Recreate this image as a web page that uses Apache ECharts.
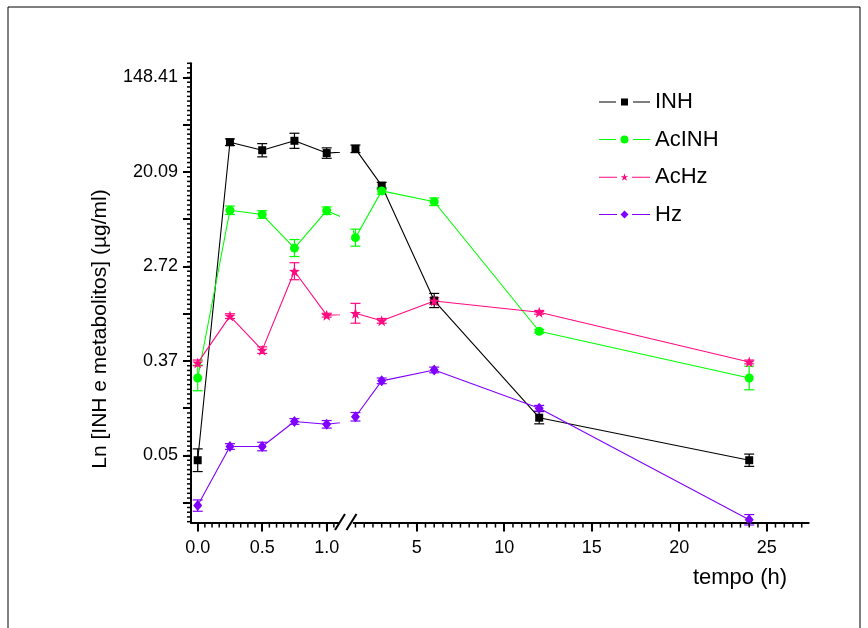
<!DOCTYPE html>
<html><head><meta charset="utf-8">
<script src="https://cdn.jsdelivr.net/npm/echarts@6/dist/echarts.min.js"></script>
<style>html,body{margin:0;padding:0;background:#fff}#c{width:868px;height:628px}</style>
</head><body><div id="c"></div>
<script>
// sampling times (h)
const times = [0, 0.25, 0.5, 0.75, 1.0, 1.5, 3, 6, 12, 24];
const seriesNames = ['INH', 'AcINH', 'AcHz', 'Hz'];
// Ln of concentration (µg/ml) and error half-widths (ln units)
const lnINH   = [-3.10, 3.63, 3.46, 3.66, 3.40, 3.49, 2.71, 0.28, -2.20, -3.10];
const errINH  = [0.24, 0.07, 0.14, 0.16, 0.11, 0.08, 0.07, 0.15, 0.13, 0.13];
const lnAcINH = [-1.36, 2.19, 2.10, 1.39, 2.18, 1.61, 2.60, 2.37, -0.37, -1.36];
const errAcINH= [0.27, 0.09, 0.08, 0.18, 0.08, 0.18, 0.07, 0.08, 0.04, 0.25];
const lnAcHz  = [-1.04, -0.05, -0.77, 0.90, -0.03, 0.01, -0.15, 0.27, 0.03, -1.02];
const errAcHz = [0.06, 0.05, 0.07, 0.18, 0.04, 0.21, 0.05, 0.07, 0.04, 0.04];
const lnHz    = [-4.06, -2.81, -2.81, -2.28, -2.34, -2.18, -1.42, -1.19, -2.00, -4.36];
const errHz   = [0.12, 0.06, 0.09, 0.06, 0.08, 0.09, 0.06, 0.06, 0.06, 0.11];
// tick values / labels
const yTickValues = [-3, -1, 1, 3, 5];
const yTickLabels = ['0.05', '0.37', '2.72', '20.09', '148.41'];
const yMidTicks = [-4, -2, 0, 2, 4];
const xLeftTicks = [0, 0.5, 1.0];
const xLeftLabels = ['0.0', '0.5', '1.0'];
const xRightTicks = [5, 10, 15, 20, 25];
const xRightLabels = ['5', '10', '15', '20', '25'];

const colors = ['#000000', '#00ff00', '#ff0a80', '#8000ff'];
const starPath = 'path://M0,-10 L2.35,-3.24 L9.51,-3.09 L3.8,1.24 L5.88,8.09 L0,4 L-5.88,8.09 L-3.8,1.24 L-9.51,-3.09 L-2.35,-3.24 Z';
const symbols = ['rect', 'circle', starPath, 'diamond'];
const symbolSizes = [8, 9, 11, [9, 11]];
const vals = [lnINH, lnAcINH, lnAcHz, lnHz];
const errs = [errINH, errAcINH, errAcHz, errHz];
// legend icons: line - gap - symbol - gap - line
const legendIcons = [
  'path://M0,3.5 L17,3.5 L17,4.5 L0,4.5 Z M22,0.5 L29,0.5 L29,7.5 L22,7.5 Z M34,3.5 L51,3.5 L51,4.5 L34,4.5 Z',
  'path://M0,3.5 L17,3.5 L17,4.5 L0,4.5 Z M21.5,4 A4,4 0 1,1 29.5,4 A4,4 0 1,1 21.5,4 Z M34,3.5 L51,3.5 L51,4.5 L34,4.5 Z',
  'path://M0,3.5 L18,3.5 L18,4.5 L0,4.5 Z M25.5,0 L26.4,2.8 L29.3,2.8 L27,4.5 L27.9,7.3 L25.5,5.6 L23.1,7.3 L24,4.5 L21.7,2.8 L24.6,2.8 Z M33,3.5 L51,3.5 L51,4.5 L33,4.5 Z',
  'path://M0,3.5 L18,3.5 L18,4.5 L0,4.5 Z M25.5,0 L29.5,4 L25.5,8 L21.5,4 Z M33,3.5 L51,3.5 L51,4.5 L33,4.5 Z'
];

const Y_MIN = -4.42, Y_MAX = 5.3;
const XL_MIN = -0.052, XL_MAX = 1.09;
const XR_MIN = 1.4, XR_MAX = 27.4;

function range(a, b, step) { const r = []; const n = Math.round((b - a) / step); for (let i = 0; i <= n; i++) r.push(+(a + i * step).toFixed(6)); return r; }
const yMinor = range(-4.4, 5.3, 0.1);
const xLeftMinor = range(0, 1.06, 0.5 / 9);
const xRightMinor = range(1.5, 27, 0.5);

function lab(list, labels) {
  return function (v) { for (let i = 0; i < list.length; i++) if (Math.abs(list[i] - v) < 1e-6) return labels[i]; return ''; };
}
const FONT = '"Liberation Sans", Arial, Helvetica, sans-serif';
const axisLineStyle = { color: '#000', width: 2 };

const xAxes = [
  { gridIndex: 0, type: 'value', min: XL_MIN, max: XL_MAX, position: 'bottom',
    axisLine: { show: true, onZero: false, lineStyle: axisLineStyle },
    axisTick: { show: true, inside: false, length: 9, customValues: xLeftTicks, lineStyle: { color: '#000', width: 2 } },
    axisLabel: { show: true, customValues: xLeftTicks, formatter: lab(xLeftTicks, xLeftLabels), margin: 16, fontSize: 18, color: '#000', fontFamily: FONT },
    splitLine: { show: false } },
  { gridIndex: 1, type: 'value', min: XR_MIN, max: XR_MAX, position: 'bottom',
    axisLine: { show: true, onZero: false, lineStyle: axisLineStyle },
    axisTick: { show: true, inside: false, length: 9, customValues: xRightTicks, lineStyle: { color: '#000', width: 2 } },
    axisLabel: { show: true, customValues: xRightTicks, formatter: lab(xRightTicks, xRightLabels), margin: 16, fontSize: 18, color: '#000', fontFamily: FONT },
    splitLine: { show: false } }
];
const yAxes = [
  { gridIndex: 0, type: 'value', min: Y_MIN, max: Y_MAX, position: 'left',
    axisLine: { show: true, onZero: false, lineStyle: axisLineStyle },
    axisTick: { show: true, inside: false, length: 8, customValues: yTickValues.concat(yMidTicks), lineStyle: { color: '#000', width: 2 } },
    axisLabel: { show: true, customValues: yTickValues, formatter: lab(yTickValues, yTickLabels), margin: 13, fontSize: 18, color: '#000', fontFamily: FONT },
    splitLine: { show: false } },
  { gridIndex: 1, type: 'value', min: Y_MIN, max: Y_MAX, show: false,
    axisLine: { onZero: false }, splitLine: { show: false } }
];

const series = [];
[[0, 0], [1, 1]].forEach(function (ax) {
  seriesNames.forEach(function (name, k) {
    series.push({
      type: 'line', name: name, xAxisIndex: ax[0], yAxisIndex: ax[1], clip: true,
      data: times.map(function (t, i) { return [t, vals[k][i]]; }),
      symbol: symbols[k], symbolSize: symbolSizes[k],
      lineStyle: { color: colors[k], width: 1.1 },
      itemStyle: { color: colors[k], borderWidth: 0 },
      z: 4, silent: true
    });
  });
});
function errSeries(k, xIdx, yIdx, inRange) {
  const data = [];
  times.forEach(function (t, i) { if (inRange(t)) data.push([t, vals[k][i], errs[k][i]]); });
  const color = colors[k];
  return {
    type: 'custom', name: seriesNames[k], xAxisIndex: xIdx, yAxisIndex: yIdx, data: data, z: 3, silent: true,
    encode: { x: 0, y: 1 },
    renderItem: function (params, api) {
      const x = api.value(0), y = api.value(1), e = api.value(2);
      const hi = api.coord([x, y + e]), lo = api.coord([x, y - e]);
      const cw = 5;
      const st = { stroke: color, lineWidth: 1.2, fill: null };
      return { type: 'group', children: [
        { type: 'line', shape: { x1: hi[0], y1: hi[1], x2: lo[0], y2: lo[1] }, style: st },
        { type: 'line', shape: { x1: hi[0] - cw, y1: hi[1], x2: hi[0] + cw, y2: hi[1] }, style: st },
        { type: 'line', shape: { x1: lo[0] - cw, y1: lo[1], x2: lo[0] + cw, y2: lo[1] }, style: st }
      ] };
    }
  };
}
seriesNames.forEach(function (n, k) {
  series.push(errSeries(k, 0, 0, function (t) { return t <= XL_MAX; }));
  series.push(errSeries(k, 1, 1, function (t) { return t >= XR_MIN; }));
});

const baseGraphic = [
  { type: 'rect', shape: { x: 8, y: 7, width: 852, height: 700 }, style: { stroke: '#000', lineWidth: 1, fill: 'none' }, silent: true },
  { type: 'line', shape: { x1: 335, y1: 530, x2: 345, y2: 514 }, style: { stroke: '#000', lineWidth: 2 }, z: 10 },
  { type: 'line', shape: { x1: 346.5, y1: 530, x2: 356.5, y2: 514 }, style: { stroke: '#000', lineWidth: 2 }, z: 10 },
  { type: 'text', x: 100, y: 329, rotation: Math.PI / 2,
    style: { text: 'Ln [INH e metabolitos] (µg/ml)', fontSize: 21, fontFamily: FONT, fill: '#000', align: 'center', verticalAlign: 'middle' } },
  { type: 'text', x: 740, y: 578,
    style: { text: 'tempo (h)', fontSize: 22, fontFamily: FONT, fill: '#000', align: 'center', verticalAlign: 'middle' } }
];

const chart = echarts.init(document.getElementById('c'), null, { renderer: 'canvas' });
chart.setOption({
  animation: false,
  backgroundColor: '#ffffff',
  grid: [
    { left: 191, right: 868 - 338.3, top: 63.3, bottom: 628 - 522.6, containLabel: false },
    { left: 353.7, right: 868 - 808.7, top: 63.3, bottom: 628 - 522.6, containLabel: false }
  ],
  xAxis: xAxes,
  yAxis: yAxes,
  legend: {
    data: seriesNames.map(function (n, k) { return { name: n, icon: legendIcons[k] }; }),
    orient: 'vertical', left: 594, top: 86,
    itemWidth: 51, itemHeight: 8, itemGap: 15.5, symbolKeepAspect: true,
    textStyle: { fontSize: 22, color: '#000', fontFamily: FONT, lineHeight: 22 },
    selectedMode: false
  },
  series: series
});

// minor ticks placed through the axes' own scales
const tickEls = [];
function addTick(finder, val, dx, dy) {
  const p = chart.convertToPixel(finder, val);
  tickEls.push({ type: 'line', silent: true, z: 10,
    shape: { x1: p[0], y1: p[1], x2: p[0] + dx, y2: p[1] + dy }, style: { stroke: '#000000', lineWidth: 1.5 } });
}
yMinor.forEach(function (v) { addTick({ xAxisIndex: 0, yAxisIndex: 0 }, [XL_MIN, v], -4, 0); });
xLeftMinor.forEach(function (v) { addTick({ xAxisIndex: 0, yAxisIndex: 0 }, [v, Y_MIN], 0, 5); });
xRightMinor.forEach(function (v) { addTick({ xAxisIndex: 1, yAxisIndex: 1 }, [v, Y_MIN], 0, 5); });
chart.setOption({ graphic: baseGraphic.concat(tickEls) });
</script>
</body></html>
